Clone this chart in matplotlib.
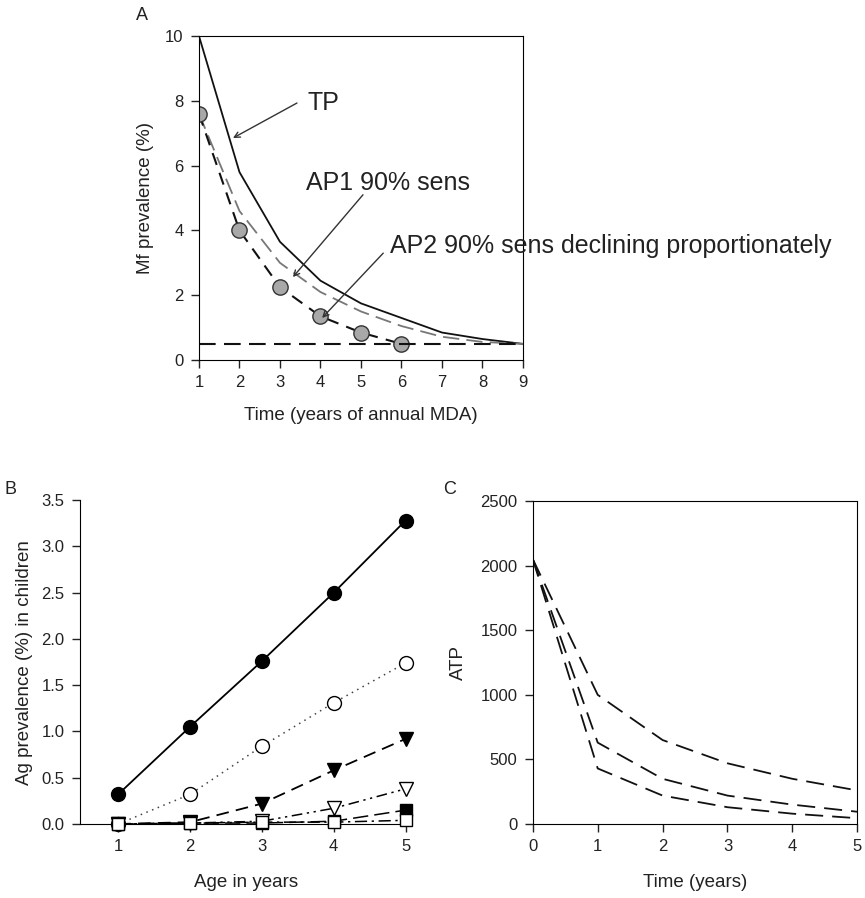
import numpy as np
import matplotlib.pyplot as plt

plt.rcParams['font.family'] = ['Liberation Sans', 'DejaVu Sans']
plt.rcParams['text.color'] = '#222222'
plt.rcParams['axes.labelcolor'] = '#222222'
plt.rcParams['xtick.color'] = '#222222'
plt.rcParams['ytick.color'] = '#222222'

# ---- panel A data ----
years_a = [1, 2, 3, 4, 5, 6, 7, 8, 9]
tp = [10, 5.8, 3.65, 2.45, 1.75, 1.3, 0.85, 0.65, 0.5]
ap1 = [7.6, 4.6, 3.0, 2.1, 1.5, 1.05, 0.72, 0.56, 0.5]
years_ap2 = [1, 2, 3, 4, 5, 6]
ap2 = [7.6, 4.0, 2.25, 1.35, 0.85, 0.5]
threshold = 0.5

# ---- panel B data ----
age = [1, 2, 3, 4, 5]
b_fcirc = [0.32, 1.05, 1.76, 2.5, 3.28]
b_ocirc = [0.0, 0.32, 0.84, 1.31, 1.74]
b_ftri = [0.0, 0.02, 0.22, 0.58, 0.92]
b_otri = [0.0, 0.01, 0.03, 0.17, 0.38]
b_fsq = [0.0, 0.01, 0.01, 0.03, 0.15]
b_osq = [0.0, 0.01, 0.02, 0.02, 0.04]

# ---- panel C data ----
time_c = [0, 1, 2, 3, 4, 5]
c_high = [2050, 1000, 650, 470, 350, 260]
c_mid = [2050, 630, 350, 220, 150, 95]
c_low = [2050, 430, 220, 130, 80, 45]

fig = plt.figure(figsize=(8.65, 8.98), dpi=100)

tick_kw = dict(direction='out', length=6, width=1, labelsize=12, pad=5)

################## A ########################
ax = fig.add_axes([0.230, 0.599, 0.3746, 0.361])
ax.plot(years_a, tp, color='#111111', lw=1.3)
ax.plot(years_a, ap1, color='#777777', lw=1.3, dashes=(9, 4))
ax.plot(years_ap2, ap2, color='#111111', lw=1.5, dashes=(6, 4),
        marker='o', ms=11, mfc='#a8a8a8', mec='#333333', mew=1)
ax.plot([1, 9], [threshold, threshold], color='#111111', lw=1.5, dashes=(8, 4))
ax.set_xlim(1, 9)
ax.set_ylim(0, 10)
ax.set_xticks(years_a)
ax.set_yticks([0, 2, 4, 6, 8, 10])
ax.tick_params(**tick_kw)
ax.set_xlabel("Time (years of annual MDA)", fontsize=13.5, labelpad=12)
ax.set_ylabel("Mf prevalence (%)", fontsize=13.5, labelpad=8)
arr = dict(arrowstyle='->', color='#333333', lw=1, shrinkA=0, shrinkB=0)
ax.text(3.69, 7.93, "TP", fontsize=18, va='center')
ax.annotate("", xy=(1.84, 6.85), xytext=(3.42, 7.93), arrowprops=arr)
ax.text(3.64, 5.46, "AP1 90% sens", fontsize=18, va='center')
ax.annotate("", xy=(3.32, 2.56), xytext=(5.05, 5.1), arrowprops=arr)
ax.text(5.72, 3.52, "AP2 90% sens declining proportionately", fontsize=18,
        va='center', clip_on=False)
ax.annotate("", xy=(4.04, 1.3), xytext=(5.55, 3.3), arrowprops=arr)
fig.text(0.157, 0.983, "A", fontsize=13, va='center')

################## B ########################
ax = fig.add_axes([0.0925, 0.0824, 0.383, 0.3606])
ax.plot(age, b_fcirc, color='black', lw=1.3, marker='o', ms=10, mfc='black', mec='black', clip_on=False, zorder=5)
ax.plot(age, b_ocirc, color='#444444', lw=1.1, ls=(0, (1, 3)), marker='o', ms=10, mfc='white', mec='black', clip_on=False, zorder=4)
ax.plot(age, b_ftri, color='black', lw=1.3, dashes=(7, 4), marker='v', ms=10, mfc='black', mec='black', clip_on=False, zorder=4)
ax.plot(age, b_otri, color='black', lw=1.1, dashes=(7, 3, 1.5, 3, 1.5, 3), marker='v', ms=10, mfc='white', mec='black', clip_on=False, zorder=4)
ax.plot(age, b_fsq, color='black', lw=1.1, dashes=(10, 4), marker='s', ms=8, mfc='black', mec='black', clip_on=False, zorder=4)
ax.plot(age, b_osq, color='black', lw=1.1, dashes=(8, 3, 1.5, 3), marker='s', ms=9, mfc='white', mec='black', clip_on=False, zorder=6)
ax.set_xlim(0.47, 5.08)
ax.set_ylim(0, 3.5)
ax.set_xticks(age)
ax.set_yticks(np.arange(0, 3.51, 0.5))
ax.set_yticklabels(["%.1f" % v for v in np.arange(0, 3.51, 0.5)])
ax.spines['top'].set_visible(False)
ax.spines['right'].set_visible(False)
ax.tick_params(**tick_kw)
ax.set_xlabel("Age in years", fontsize=13.5, labelpad=14)
ax.set_ylabel("Ag prevalence (%) in children", fontsize=13.5, labelpad=6)
fig.text(0.005, 0.455, "B", fontsize=13, va='center')

################## C ########################
ax = fig.add_axes([0.616, 0.0824, 0.375, 0.3596])
for vals in (c_high, c_mid, c_low):
    ax.plot(time_c, vals, color='#111111', lw=1.3, dashes=(10, 5))
ax.set_xlim(0, 5)
ax.set_ylim(0, 2500)
ax.set_xticks(time_c)
ax.set_yticks([0, 500, 1000, 1500, 2000, 2500])
ax.tick_params(**tick_kw)
ax.set_xlabel("Time (years)", fontsize=13.5, labelpad=14)
ax.set_ylabel("ATP", fontsize=13.5, labelpad=10)
fig.text(0.512, 0.455, "C", fontsize=13, va='center')

fig.savefig("out.png", dpi=100)
